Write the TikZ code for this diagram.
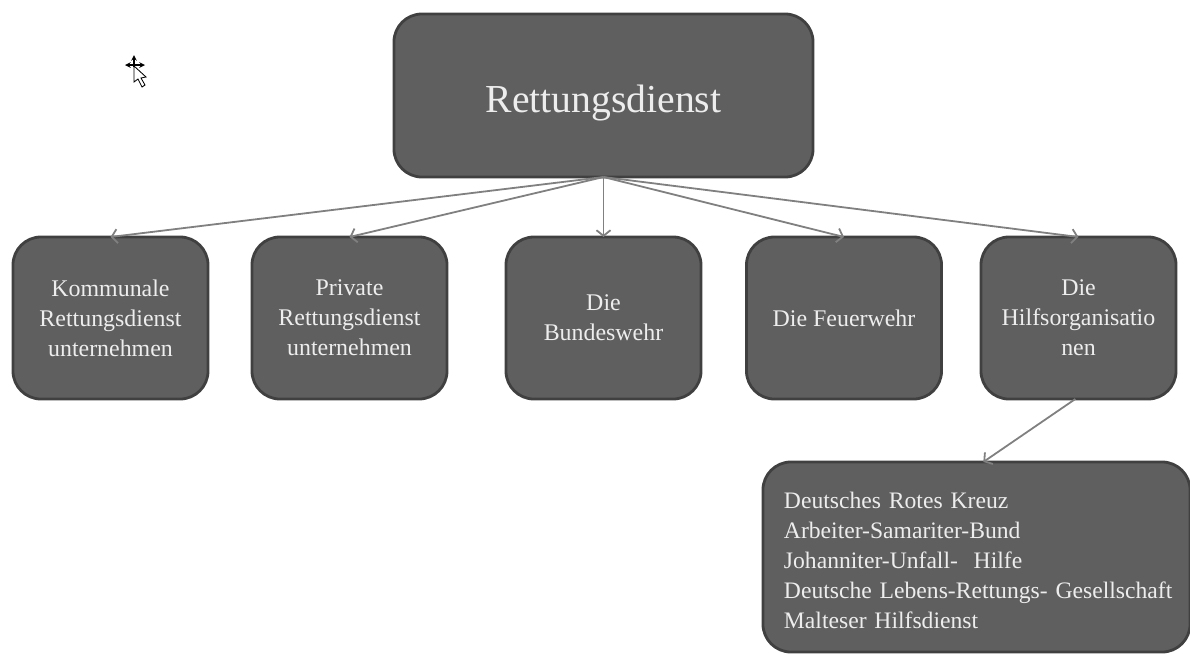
\documentclass[tikz,border=0pt]{standalone}
\usepackage{fontspec}
\setmainfont{Liberation Serif}
\usetikzlibrary{arrows.meta}
\definecolor{boxfill}{HTML}{5F5F5F}
\definecolor{boxline}{HTML}{404040}
\definecolor{boxtext}{HTML}{EDEDED}
\definecolor{linkline}{HTML}{808080}
\tikzset{
  unit/.style={draw=boxline,fill=boxfill,text=boxtext,line width=0.07cm,rounded corners=0.7cm,
    outer sep=0pt,inner sep=0pt,align=center,minimum width=4.875cm,minimum height=4.05cm,
    font=\fontsize{17}{21.3}\selectfont},
  link/.style={draw=linkline,line width=0.045cm,-{Straight Barb[length=4pt,width=10pt]}}
}
\begin{document}
\begin{tikzpicture}[x=0.025cm,y=-0.025cm]
  \useasboundingbox (0,0) rectangle (1190,653);
  \node [unit,minimum width=10.475cm,minimum height=4.075cm,text height=24pt,text depth=0pt,font=\fontsize{28.2}{34}\selectfont] (dienst) at (603.5,95.5) {Rettungsdienst};
  \node [unit] (kommunal) at (110.5,318) {Kommunale\\Rettungsdienst\\unternehmen};
  \node [unit] (privat) at (349.5,318) {Private\\Rettungsdienst\\unternehmen};
  \node [unit] (bund) at (603.5,318) {Die\\Bundeswehr};
  \node [unit] (feuer) at (844,318) {Die Feuerwehr};
  \node [unit] (hilfs) at (1078.5,318) {Die\\Hilfsorganisatio\\nen};
  \node [unit,minimum width=10.675cm,minimum height=4.75cm,align=left,text width=9.625cm,font=\fontsize{16.8}{21.3}\selectfont] (liste) at (976.5,557)
    {\rule{0pt}{16.5pt}Deutsches Rotes Kreuz\\Arbeiter-Samariter-Bund\\Johanniter-Unfall-\ \ Hilfe\\\mbox{Deutsche Lebens-Rettungs-\ Gesellschaft}\\Malteser Hilfsdienst};
  \draw [link] (dienst.south) -- (kommunal.north);
  \draw [link] (dienst.south) -- (privat.north);
  \draw [link] (dienst.south) -- (bund.north);
  \draw [link] (dienst.south) -- (feuer.north);
  \draw [link] (dienst.south) -- (hilfs.north);
  \draw [link] ([xshift=-0.08cm]hilfs.south) -- ([xshift=0.17cm]liste.north);
  \draw [thick,<->,>=stealth] (125,65) -- (145,65);
  \draw [thick,->,>=stealth] (134,67) -- (134,55);
  \draw [fill=white,line width=0.6pt] (134,66) -- (134,82) -- (138,79) -- (142,87) -- (145,85) -- (141,78) -- (146,77) -- cycle;
\end{tikzpicture}
\end{document}
